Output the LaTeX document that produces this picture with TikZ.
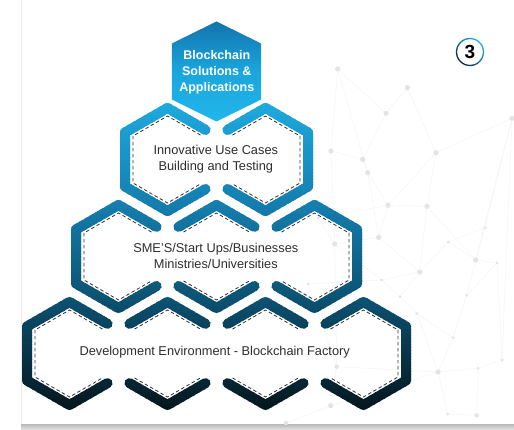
\documentclass[tikz,border=0pt]{standalone}
\usepackage{fontspec}
\setmainfont{Liberation Sans}
\definecolor{cA}{HTML}{1EACE0}
\definecolor{cB}{HTML}{1580B2}
\definecolor{cC}{HTML}{0C5272}
\definecolor{cD}{HTML}{04161D}
\definecolor{txt}{HTML}{2E2E2E}
\definecolor{netl}{HTML}{F3F3F3}
\definecolor{netd}{HTML}{E4E4E4}
\definecolor{tA}{HTML}{1273AD}
\definecolor{tM}{HTML}{1BA6DD}
\definecolor{tB}{HTML}{22B6EA}
\definecolor{ringdark}{HTML}{0B2A3C}
\definecolor{ringcyan}{HTML}{1FB0E6}
\tikzset{
  outl/.style={line width=10pt, line cap=round, line join=round},
  dsh/.style={draw=txt, line width=0.8pt, dash pattern=on 3.5pt off 2.5pt, line cap=butt},
  lbl/.style={text=txt, align=center, font=\fontsize{12.8}{16.5}\selectfont},
  netline/.style={draw=netl, line width=0.4pt},
  netdot/.style={fill=netd},
}
% outline pieces, relative to centre
\newcommand\hxL{(38,-29.6) -- (0,-51.5) -- (-42.5,-27) -- (-42.5,27) -- (0,51.5) -- (38,29.6)}
\newcommand\hxR{(-38,-29.6) -- (0,-51.5) -- (42.5,-27) -- (42.5,27) -- (0,51.5) -- (-38,29.6)}
\newcommand\hxM{(-38,-29.6) -- (0,-51.5) -- (38,-29.6) (-38,29.6) -- (0,51.5) -- (38,29.6)}
\newcommand\dxL{(33,-24.4) -- (0,-43.5) -- (-34.5,-23.5) -- (-34.5,23.5) -- (0,43.5) -- (33,24.4)}
\newcommand\dxR{(-33,-24.4) -- (0,-43.5) -- (34.5,-23.5) -- (34.5,23.5) -- (0,43.5) -- (-33,24.4)}
\newcommand\dxM{(-33,-24.4) -- (0,-43.5) -- (33,-24.4) (-33,24.4) -- (0,43.5) -- (33,24.4)}
\newcommand\alloutlines[1]{%
  \draw[outl,draw=#1,shift={(167.5,159.5)}] \hxL;
  \draw[outl,draw=#1,shift={(265.5,159.5)}] \hxR;
  \draw[outl,draw=#1,shift={(118.5,256.5)}] \hxL;
  \draw[outl,draw=#1,shift={(216.5,256.5)}] \hxM;
  \draw[outl,draw=#1,shift={(314.5,256.5)}] \hxR;
  \draw[outl,draw=#1,shift={(69.5,353.5)}] \hxL;
  \draw[outl,draw=#1,shift={(167.5,353.5)}] \hxM;
  \draw[outl,draw=#1,shift={(265.5,353.5)}] \hxM;
  \draw[outl,draw=#1,shift={(363.5,353.5)}] \hxR;
}
\begin{document}
\begin{tikzpicture}[x=1pt,y=-1pt]
\path[use as bounding box] (0,0) rectangle (514,430);
\fill[white] (0,0) rectangle (514,430);
% card edges
\draw[gray!15, line width=0.6pt] (21.3,0) -- (21.3,424);
\shade[top color=gray!55, bottom color=gray!20] (21,424) rectangle (514,430);
% network background
\foreach \n/\x/\y in {1/337.7/69,2/407.3/87.7,3/386/113.3,4/512/118.3,5/331/151,6/362.7/159.3,7/436/152.7,8/367.7/172.7,9/388/205.3,10/427/206.3,11/378.7/237.3,12/334.7/244,13/475.7/260,14/419.7/272,15/448.3/242,16/466.7/295.3,17/438/372,18/478/368.3,19/502/360,20/330.7/405.7,21/476.7/415.3,22/453/337.7,23/497/263,24/485/227.7,25/400/296.7,26/416.7/313.3,27/381.7/280,28/336.7/366.7,29/286/423,30/447.7/414,31/318/218,32/308/284}
  \coordinate (n\n) at (\x,\y);
\foreach \a/\b in {2/3,1/3,1/5,1/8,3/6,2/7,7/4,7/9,7/10,5/6,6/8,8/9,9/10,9/11,8/11,11/12,11/14,10/13,10/14,13/4,13/24,13/23,14/25,14/15,15/13,14/27,27/25,25/26,26/22,22/17,17/18,18/19,17/28,17/20,16/13,16/22,16/23,19/23,18/21,20/28,12/27,12/28,5/12,26/17,4/19,12/31,31/9,27/32,32/28,20/29,30/17,30/21,24/4,15/24}
  \draw[netline] (n\a) -- (n\b);
\foreach \n/\r in {1/2.6,2/2.6,3/2.6,4/2.6,5/2.6,6/2.6,7/2.6,8/2.6,9/2.6,10/2.6,11/2.6,12/2.6,13/2.6,14/2.6,15/1.5,16/1.5,17/2.6,18/1.5,19/1.5,20/2.6,21/2.2,22/1.5,23/1.5,24/1.5,25/1.5,26/1.5,27/1.5,28/2.2,29/2.2,30/1.5,31/1.5,32/1.5}
  \fill[netdot] (n\n) circle[radius=\r];
% top filled hexagon
\shade[top color=tA, bottom color=tB, middle color=tM]
  (216.5,21.5) -- (261.2,43.5) -- (261.2,99.5) -- (216.5,121.5) -- (171.8,99.5) -- (171.8,43.5) -- cycle;
\node[text=white, align=center, font=\bfseries\fontsize{12.5}{16}\selectfont] (top) at (216.8,72.5) {Blockchain\\Solutions \&\\Applications};
% gradient outlines, drawn band by band
\foreach \yy in {95,98,...,413} {
  \pgfmathsetmacro\ym{\yy+1.5}
  \ifdim\ym pt<200pt
    \pgfmathsetmacro\p{max(0,min(100,200-\ym))}\colorlet{bc}{cA!\p!cB}
  \else\ifdim\ym pt<300pt
    \pgfmathsetmacro\p{300-\ym}\colorlet{bc}{cB!\p!cC}
  \else
    \pgfmathsetmacro\p{max(0,(410-\ym)/110*100)}\colorlet{bc}{cC!\p!cD}
  \fi\fi
  \begin{scope}
    \clip (0,\yy) rectangle (514,\yy+3.4);
    \alloutlines{bc}
  \end{scope}
}
% dashed inner hexagons
\draw[dsh,shift={(167.5,159.5)}] \dxL;
\draw[dsh,shift={(265.5,159.5)}] \dxR;
\draw[dsh,shift={(118.5,256.5)}] \dxL;
\draw[dsh,shift={(216.5,256.5)}] \dxM;
\draw[dsh,shift={(314.5,256.5)}] \dxR;
\draw[dsh,shift={(69.5,353.5)}] \dxL;
\draw[dsh,shift={(167.5,353.5)}] \dxM;
\draw[dsh,shift={(265.5,353.5)}] \dxM;
\draw[dsh,shift={(363.5,353.5)}] \dxR;
% labels
\node[lbl] (r2) at (215.8,159) {Innovative Use Cases\\Building and Testing};
\node[lbl] (r3) at (215.8,256) {SME’S/Start Ups/Businesses\\Ministries/Universities};
\node[lbl] (r4) at (214.7,352) {Development Environment - Blockchain Factory};
% step number
\foreach \a in {0,10,...,350} {
  \pgfmathsetmacro\p{(1+cos(\a+5-315))/2*100}
  \draw[line width=1.3pt, draw=ringcyan!\p!ringdark] (470,52) ++(\a:13.5) arc[start angle=\a, end angle=\a+11, radius=13.5];
}
\node[font=\bfseries\fontsize{19}{19}\selectfont, text=black] (num) at (470,52) {3};
\end{tikzpicture}
\end{document}
